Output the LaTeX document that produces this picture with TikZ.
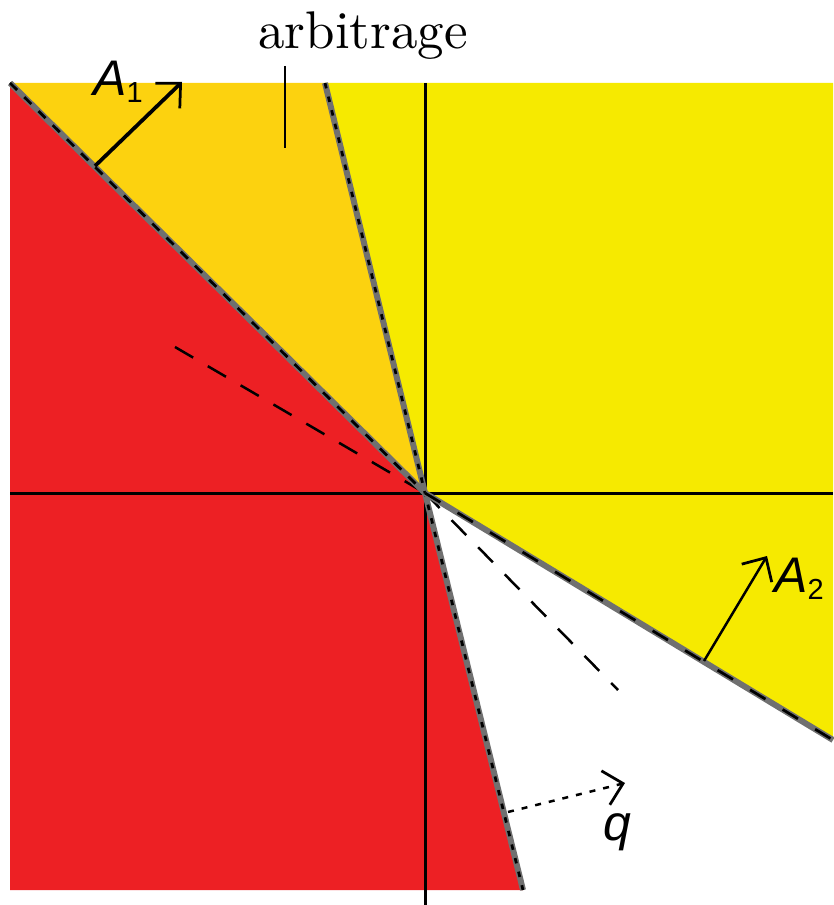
\documentclass[tikz,border=0pt]{standalone}
\usepackage{fontspec}
\newfontfamily\lblsans{Liberation Sans}
\usetikzlibrary{arrows.meta}
\definecolor{redreg}{RGB}{237,32,36}
\definecolor{orangereg}{RGB}{252,210,15}
\definecolor{yellowreg}{RGB}{246,234,0}
\definecolor{bgray}{RGB}{112,112,112}
\tikzset{
  axisline/.style={line width=0.6pt, black},
  grayline/.style={line width=1.2pt, bgray},
  bdash/.style={line width=0.55pt, black},
  extdash/.style={line width=0.5pt, black, dash pattern=on 4.2pt off 3.4pt},
  vecarrow/.style={line width=0.5pt, black, -{Straight Barb[length=3.6pt,width=7pt,line width=0.55pt]}},
  lbl/.style={inner sep=0pt, font=\fontsize{10.6}{12}\selectfont},
  vlbl/.style={inner sep=0pt, font=\fontsize{10}{12}\selectfont\lblsans},
}
\newcommand{\vecsub}[1]{\raisebox{-1.5pt}{\fontsize{5.8}{7}\selectfont\lblsans\upshape #1}}
\begin{document}
\begin{tikzpicture}[x=0.2pt,y=-0.2pt]
\useasboundingbox (0,0) rectangle (833,905);
\coordinate (O) at (425,493);
\coordinate (TL) at (10,83);
\coordinate (TR) at (833,83);
\coordinate (T2) at (325,83);
\coordinate (B2) at (523,890);
\coordinate (BL) at (10,890);
\coordinate (R3) at (833,740);
\coordinate (E3) at (175,347);
\coordinate (E1) at (618,690);
% regions
\fill[redreg] (TL) -- (O) -- (B2) -- (BL) -- cycle;
\fill[orangereg] (TL) -- (T2) -- (O) -- cycle;
\fill[yellowreg] (T2) -- (TR) -- (R3) -- (O) -- cycle;
% extension dashed lines
\draw[extdash] (E3) -- (O);
\draw[extdash] (O) -- (E1);
% axes
\coordinate (AxT) at (425,83);
\coordinate (AxB) at (425,905);
\coordinate (AxL) at (10,493);
\coordinate (AxR) at (833,493);
\draw[axisline] (AxT) -- (AxB);
\draw[axisline] (AxL) -- (AxR);
% boundaries
\draw[grayline] (TL) -- (O);
\draw[bdash, dash pattern=on 2pt off 2pt] (TL) -- (O);
\draw[grayline] (T2) -- (O) -- (B2);
\draw[bdash, dash pattern=on 1.1pt off 1.7pt] (T2) -- (O) -- (B2);
\draw[grayline] (O) -- (R3);
\draw[bdash, dash pattern=on 3.6pt off 4pt] (O) -- (R3);
% normal vectors
\coordinate (A1s) at (95,166);
\coordinate (A1e) at (182,82);
\draw[vecarrow, line width=0.75pt] (A1s) -- (A1e);
\node[vlbl] (A1) at (118,82) {\itshape A\vecsub{1}};
\coordinate (A2s) at (704,661);
\coordinate (A2e) at (767,556);
\draw[vecarrow] (A2s) -- (A2e);
\node[vlbl] (A2) at (799,579) {\itshape A\vecsub{2}};
\coordinate (qs) at (508,812);
\coordinate (qe) at (625,783);
\draw[vecarrow, dash pattern=on 1.2pt off 1.6pt] (qs) -- (qe);
\node[vlbl] (q) at (617,832) {\itshape q};
% arbitrage label
\coordinate (arbT) at (285,66);
\coordinate (arbB) at (285,148);
\draw[line width=0.5pt] (arbT) -- (arbB);
\node[lbl] (arb) at (363,36) {arbitrage};
\end{tikzpicture}
\end{document}
